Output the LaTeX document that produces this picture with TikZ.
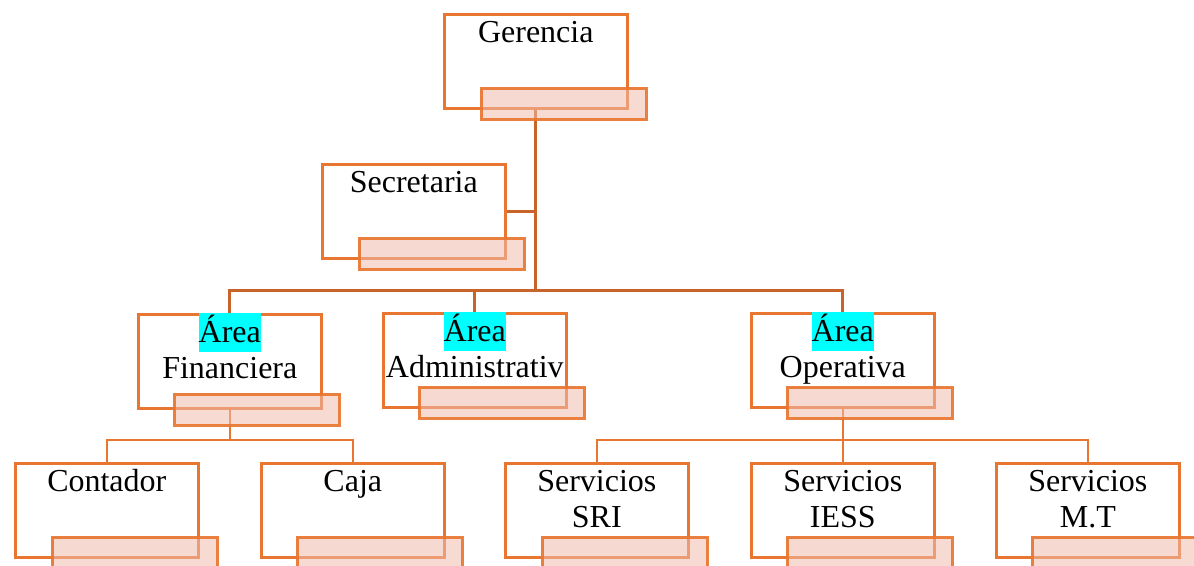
\documentclass[tikz,border=0pt]{standalone}
\usepackage{fontspec}
\setmainfont{Liberation Serif}

\definecolor{boxorange}{RGB}{233,118,48}
\definecolor{linkbrown}{RGB}{200,100,42}
\definecolor{tabfill}{RGB}{240,188,172}
\definecolor{hlcyan}{RGB}{0,255,255}

% cyan highlight behind a word, spanning the full line height
\newcommand\hlword[1]{{\setlength\fboxsep{0pt}\colorbox{hlcyan}{\rule[-9pt]{0pt}{38.5pt}#1}}}
\newcommand\firstline{\rule{0pt}{29.5pt}}

\tikzset{
  unitbox/.style={draw=boxorange, line width=2.6pt, fill=white,
    minimum width=183pt, minimum height=94pt, inner sep=0pt, anchor=north west},
  tabbox/.style={draw=boxorange, line width=2.8pt, fill=tabfill,
    fill opacity=0.55, draw opacity=0.92,
    minimum width=165pt, minimum height=31pt, inner sep=0pt, anchor=north west},
  unitlabel/.style={anchor=north, inner sep=0pt, align=center,
    font=\fontsize{32}{36}\selectfont},
  link/.style={draw=linkbrown, line width=3pt},
  sublink/.style={draw=boxorange, line width=2.6pt},
}

\begin{document}
\begin{tikzpicture}[x=1pt, y=-1pt]
\useasboundingbox (0,0) rectangle (1194,565);

% main unit boxes
\node[unitbox] (ger) at (443,13)  {};
\node[unitbox] (sec) at (321,163) {};
\node[unitbox] (fin) at (137,313) {};
\node[unitbox] (adm) at (382,312) {};
\node[unitbox] (ope) at (750,312) {};
\node[unitbox] (con) at (14,462)  {};
\node[unitbox] (caj) at (260,462) {};
\node[unitbox] (sri) at (504,462) {};
\node[unitbox] (ies) at (750,462) {};
\node[unitbox] (mt)  at (995,462) {};

% bus levels
\coordinate (busTop) at (0,290);
\coordinate (busLow) at (0,440);

% connectors
\draw[link] (ger.south) -- (ger.south |- busTop);
\draw[link] (sec.east) -- (sec.east -| ger.south);
\draw[link] (fin.north) |- (ope.north |- busTop) -- (ope.north);
\draw[link] (adm.north) -- (adm.north |- busTop);

\draw[sublink] (fin.south) -- (fin.south |- busLow);
\draw[sublink] (con.north) |- (caj.north |- busLow) -- (caj.north);
\draw[sublink] (ope.south) -- (ies.north);
\draw[sublink] (sri.north) |- (mt.north |- busLow) -- (mt.north);

% translucent tabs
\node[tabbox] (gerTab) at (480,87)  {};
\node[tabbox] (secTab) at (358,237) {};
\node[tabbox] (finTab) at (173,393) {};
\node[tabbox] (admTab) at (418,386) {};
\node[tabbox] (opeTab) at (786,386) {};
\node[tabbox] (conTab) at (51,536)  {};
\node[tabbox] (cajTab) at (296,536) {};
\node[tabbox] (sriTab) at (541,536) {};
\node[tabbox] (iesTab) at (786,536) {};
\node[tabbox] (mtTab)  at (1031,536) {};

% labels
\node[unitlabel] (gerT) at (ger.north) {\firstline Gerencia};
\node[unitlabel] (secT) at (sec.north) {\firstline Secretaria};
\node[unitlabel] (finT) at (fin.north) {\hlword{Área}\\Financiera};
\node[unitlabel] (admT) at (adm.north) {\hlword{Área}\\Administrativ};
\node[unitlabel] (opeT) at (ope.north) {\hlword{Área}\\Operativa};
\node[unitlabel] (conT) at (con.north) {\firstline Contador};
\node[unitlabel] (cajT) at (caj.north) {\firstline Caja};
\node[unitlabel] (sriT) at (sri.north) {\firstline Servicios\\SRI};
\node[unitlabel] (iesT) at (ies.north) {\firstline Servicios\\IESS};
\node[unitlabel] (mtT)  at (mt.north)  {\firstline Servicios\\M.T};
\end{tikzpicture}
\end{document}
